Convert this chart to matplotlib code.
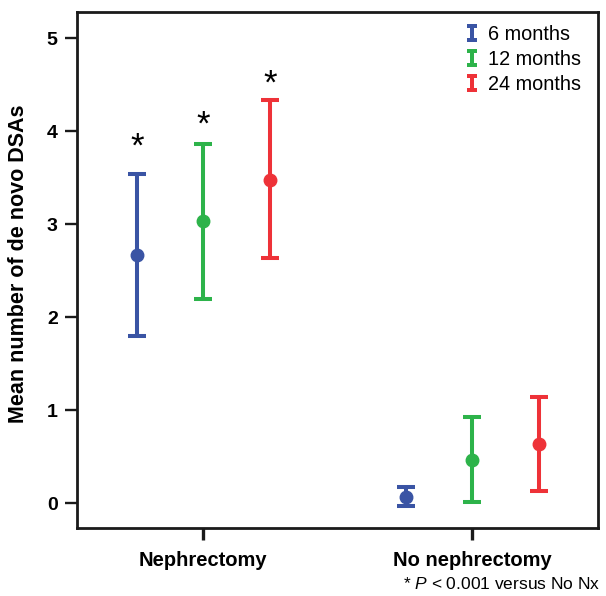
import matplotlib
matplotlib.use('Agg')
import matplotlib.pyplot as plt
from matplotlib.path import Path
from matplotlib.lines import Line2D
import numpy as np

# ---- data ----
groups = ['Nephrectomy', 'No nephrectomy']
series = ['6 months', '12 months', '24 months']
mean_6 = [2.67, 0.07]
mean_12 = [3.03, 0.466]
mean_24 = [3.48, 0.634]
low_6 = [1.80, -0.026]
low_12 = [2.20, 0.014]
low_24 = [2.64, 0.13]
up_6 = [3.54, 0.17]
up_12 = [3.86, 0.928]
up_24 = [4.34, 1.14]
star_y = [3.89, 4.12, 4.56]   # asterisks above Nephrectomy bars
ylabel = 'Mean number of de novo DSAs'
footnote = r'* $\mathit{P}$ < 0.001 versus No Nx'

means = [mean_6, mean_12, mean_24]
lows = [low_6, low_12, low_24]
ups = [up_6, up_12, up_24]
colors = ['#3A54A4', '#2DB34A', '#EE3238']

plt.rcParams['font.family'] = ['Liberation Sans', 'DejaVu Sans']
plt.rcParams['mathtext.fontset'] = 'custom'
plt.rcParams['mathtext.rm'] = 'Liberation Sans'
plt.rcParams['mathtext.it'] = 'Liberation Sans:italic'

fig = plt.figure(figsize=(6.06, 5.96), dpi=100)
ax = fig.add_axes([77.3 / 606, 1 - 528.3 / 596, 521 / 606, 516 / 596])

x = np.arange(len(groups))
offsets = [-0.247, 0.0, 0.247]
for i in range(len(series)):
    m = np.array(means[i]); lo = np.array(lows[i]); hi = np.array(ups[i])
    ax.errorbar(x + offsets[i], m, yerr=[m - lo, hi - m], fmt='o', color=colors[i],
                ms=9, elinewidth=2.9, capsize=6.5, capthick=2.9, zorder=3)
    ax.annotate('*', (x[0] + offsets[i], star_y[i]), xytext=(0, -10.5),
                textcoords='offset points', ha='center', va='baseline',
                fontsize=25, color='black')

ax.set_xlim(-0.468, 1.468)
ax.set_ylim(-0.27, 5.28)
ax.set_xticks(x)
ax.set_xticklabels(groups, fontsize=14.5, fontweight='bold')
ax.set_yticks(range(0, 6))
ax.set_yticklabels([str(v) for v in range(0, 6)], fontsize=14, fontweight='bold')
ax.tick_params(axis='x', direction='out', length=8.6, width=2.4, pad=7.5, color='#1a1a1a')
ax.tick_params(axis='y', direction='out', length=8.6, width=1.7, pad=5.5, color='#1a1a1a')
for s in ax.spines.values():
    s.set_linewidth(2.0)
    s.set_color('#1a1a1a')

ax.set_ylabel(ylabel, fontsize=15.5, fontweight='bold')
ax.yaxis.set_label_coords(-0.092, 0.512)

# I-beam legend marker
verts = [(-0.3, 0.5), (0.3, 0.5), (0.3, 0.3), (0.13, 0.3), (0.13, -0.3),
         (0.3, -0.3), (0.3, -0.5), (-0.3, -0.5), (-0.3, -0.3), (-0.13, -0.3),
         (-0.13, 0.3), (-0.3, 0.3), (-0.3, 0.5)]
codes = [Path.MOVETO] + [Path.LINETO] * (len(verts) - 2) + [Path.CLOSEPOLY]
ibeam = Path(verts, codes)
handles = [Line2D([], [], ls='none', marker=ibeam, markersize=12.5, color=c,
                  markeredgewidth=0) for c in colors]
ax.legend(handles, series, loc='upper right', bbox_to_anchor=(1 - 17 / 521, 1 - 12.5 / 516),
          frameon=False, fontsize=14.3, handlelength=0.5, handletextpad=0.55,
          labelspacing=0.3, borderaxespad=0, borderpad=0)

fig.text(600 / 606, 1 - 589 / 596, footnote, ha='right', va='baseline', fontsize=12.5)

fig.savefig('out.png', dpi=100)
